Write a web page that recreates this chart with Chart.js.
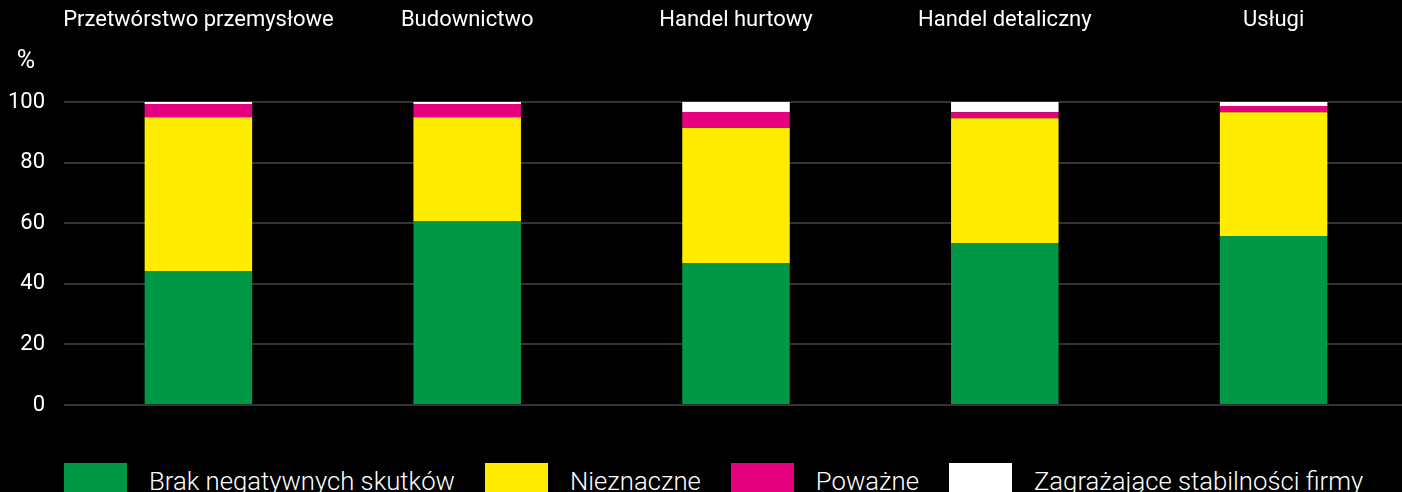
<!DOCTYPE html>
<html>
<head>
<meta charset="utf-8">
<script src="https://cdn.jsdelivr.net/npm/chart.js@4.4.1/dist/chart.umd.min.js"></script>
<style>
  html, body { margin: 0; padding: 0; background: #000; overflow: hidden; }
  body { width: 1402px; height: 492px; position: relative; font-family: Roboto, sans-serif; }
  #wrap { position: absolute; left: 0; top: 0; width: 1408px; height: 450px; }
  #legend { position: absolute; left: 64px; top: 463px; display: flex; white-space: nowrap; }
  .item { display: flex; align-items: flex-start; margin-right: 30px; }
  .box { width: 63px; height: 40px; margin-right: 22px; }
  .label { color: #fff; font-size: 25.7px; line-height: 36px; font-weight: 300; }
</style>
</head>
<body>
<div id="wrap"><canvas id="chart"></canvas></div>
<div id="legend"></div>
<script>
const categories = ['Przetwórstwo przemysłowe', 'Budownictwo', 'Handel hurtowy', 'Handel detaliczny', 'Usługi'];
const seriesNames = ['Brak negatywnych skutków', 'Nieznaczne', 'Poważne', 'Zagrażające stabilności firmy'];
const brak = [44.2, 60.6, 46.9, 53.5, 55.8];
const nieznaczne = [50.8, 34.4, 44.5, 41.1, 40.8];
const powazne = [4.3, 4.3, 5.3, 2.0, 2.1];
const zagrazajace = [0.7, 0.7, 3.3, 3.4, 1.3];
const colors = ['#009846', '#ffec00', '#e5007d', '#ffffff'];
const yTicks = [0, 20, 40, 60, 80, 100];

// "%" unit label above the y axis
const percentLabel = {
    id: 'percentLabel',
    afterDraw(chart) {
        const ctx = chart.ctx;
        ctx.save();
        ctx.fillStyle = '#fff';
        ctx.font = '25px Roboto';
        ctx.textAlign = 'center';
        ctx.textBaseline = 'middle';
        ctx.fillText('%', 26, chart.chartArea.top - 40);
        ctx.restore();
    }
};

const seriesData = [brak, nieznaczne, powazne, zagrazajace];

const chart = new Chart(document.getElementById('chart').getContext('2d'), {
    type: 'bar',
    data: {
        labels: categories,
        datasets: seriesNames.map((name, i) => ({
            label: name,
            data: seriesData[i],
            backgroundColor: colors[i],
            borderWidth: 0,
            barPercentage: 0.4,
            categoryPercentage: 1.0
        }))
    },
    options: {
        responsive: true,
        maintainAspectRatio: false,
        animation: false,
        layout: { padding: { top: 0, bottom: 45, left: 0, right: 0 } },
        scales: {
            x: {
                stacked: true,
                position: 'top',
                afterFit: scale => {
                    scale.height = 102;
                    scale.paddingLeft = 0;
                    scale.paddingRight = 0;
                },
                grid: { display: false, drawTicks: false },
                border: { display: false },
                ticks: {
                    color: '#fff',
                    padding: 68,
                    autoSkip: false,
                    font: { family: 'Roboto', size: 22 },
                    maxRotation: 0
                }
            },
            y: {
                stacked: true,
                min: 0,
                max: 100,
                afterFit: scale => { scale.width = 64; },
                afterBuildTicks: scale => { scale.ticks = yTicks.map(v => ({ value: v })); },
                grid: { color: '#333', lineWidth: 2, drawTicks: false },
                border: { display: false },
                ticks: {
                    color: '#fff',
                    padding: 19,
                    font: { family: 'Roboto', size: 22 }
                }
            }
        },
        plugins: {
            legend: { display: false },
            tooltip: { enabled: false }
        }
    },
    plugins: [percentLabel]
});

const legend = document.getElementById('legend');
chart.data.datasets.forEach(ds => {
    const item = document.createElement('div');
    item.className = 'item';
    item.innerHTML = `<div class="box" style="background:${ds.backgroundColor}"></div><div class="label">${ds.label}</div>`;
    legend.appendChild(item);
});
</script>
</body>
</html>
